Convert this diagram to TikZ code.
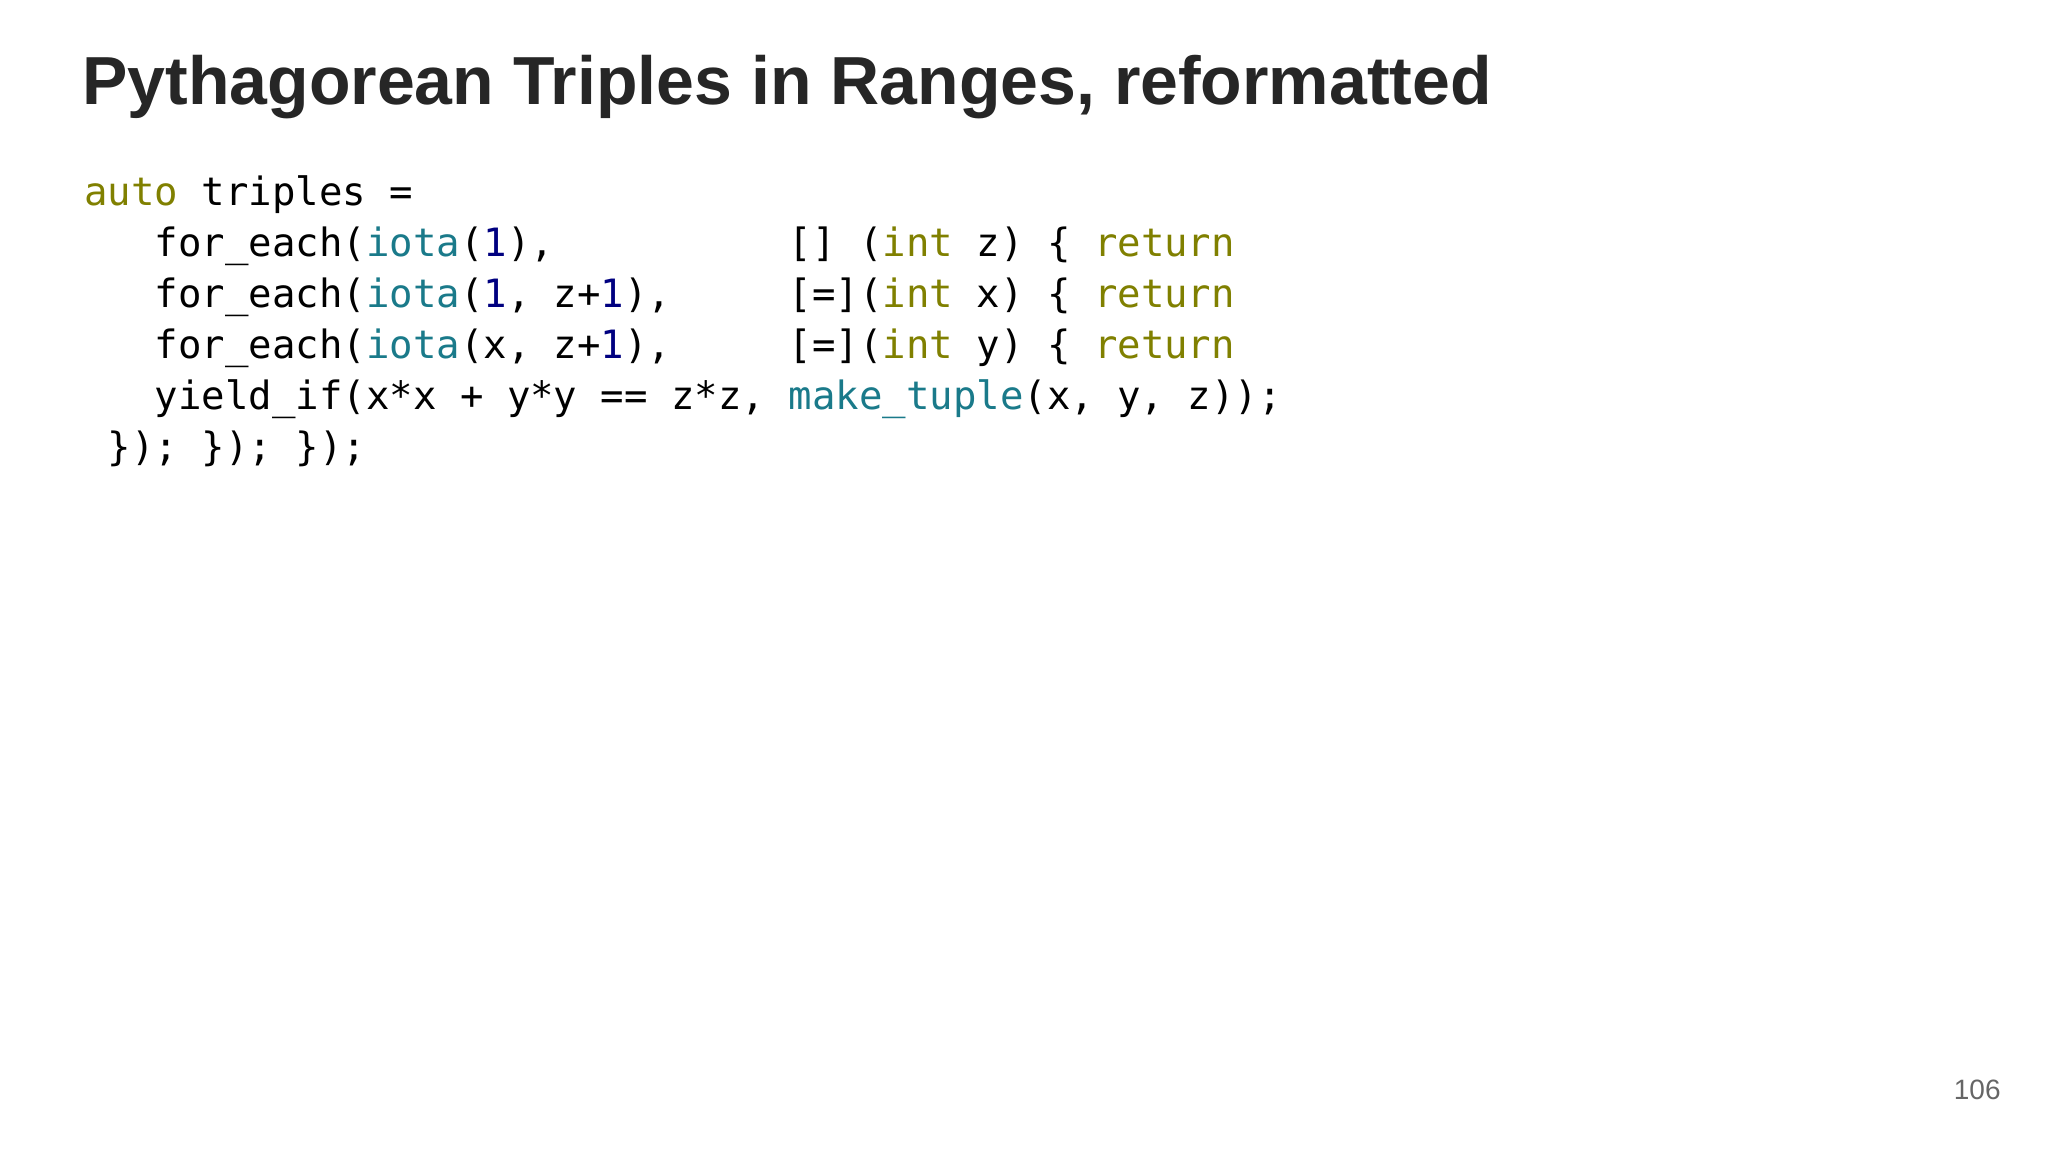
\documentclass[tikz,border=0pt]{standalone}
\usepackage{fontspec}
\setmainfont{Liberation Sans}
\setmonofont{DejaVu Sans Mono}
\definecolor{kwc}{HTML}{808000}
\definecolor{fnc}{HTML}{1A7A8A}
\definecolor{nmc}{HTML}{000080}
\definecolor{titlec}{HTML}{262626}
\newcommand{\kw}[1]{\textcolor{kwc}{#1}}
\newcommand{\fnn}[1]{\textcolor{fnc}{#1}}
\newcommand{\nm}[1]{\textcolor{nmc}{#1}}
\newcommand{\csp}[1]{\hspace*{#1\fontcharwd\font`x}}
\tikzset{code/.style={anchor=base west,inner sep=0pt,font=\ttfamily\fontsize{19.5}{25}\selectfont}}
\begin{document}
\begin{tikzpicture}[x=0.5pt,y=-0.5pt]
\useasboundingbox[fill=white] (0,0) rectangle (2048,1152);
\node[anchor=base west,inner sep=0pt,font=\bfseries\fontsize{34}{40}\selectfont,text=titlec] (title) at (82,104) {Pythagorean Triples in Ranges, reformatted};
\node[code] (l1) at (84,205) {\kw{auto} triples =};
\node[code] (l2) at (84,256) {\csp{3}for\_each(\fnn{iota}(\nm{1}),\csp{10}[] (\kw{int} z) \{ \kw{return}};
\node[code] (l3) at (84,307) {\csp{3}for\_each(\fnn{iota}(\nm{1}, z+\nm{1}),\csp{5}[=](\kw{int} x) \{ \kw{return}};
\node[code] (l4) at (84,358) {\csp{3}for\_each(\fnn{iota}(x, z+\nm{1}),\csp{5}[=](\kw{int} y) \{ \kw{return}};
\node[code] (l5) at (84,409) {\csp{3}yield\_if(x*x + y*y == z*z, \fnn{make\_tuple}(x, y, z));};
\node[code] (l6) at (84,460) {\csp{1}\}); \}); \});};
\node[anchor=base east,inner sep=0pt,font=\fontsize{14}{16}\selectfont,text=black!60] (pg) at (2001,1099) {106};
\end{tikzpicture}
\end{document}
